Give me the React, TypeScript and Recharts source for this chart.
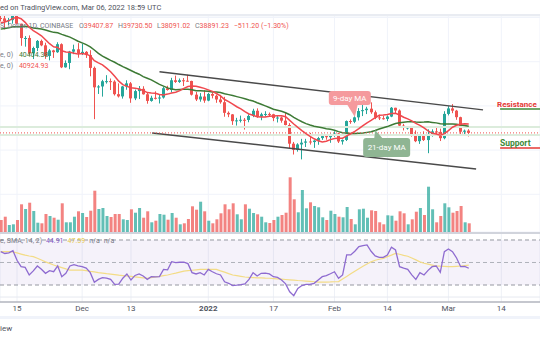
import React from "react";
import {
  ComposedChart,
  Bar,
  Line,
  XAxis,
  YAxis,
  CartesianGrid,
  ReferenceLine,
  ReferenceArea,
  ReferenceDot,
  Cell,
} from "recharts";

// day 0 = 15 Nov 2021, first candle is 11 Nov 2021
const FIRST_DAY = -4;
const X_DOMAIN: [number, number] = [-4.18, 128.5];

const tickDays = [0, 16, 28, 47, 63, 78, 91, 106, 119];
const tickLabels = ["15", "Dec", "13", "2022", "17", "Feb", "14", "Mar", "14"];
const priceTicks = [20000, 25000, 30000, 35000, 40000, 45000, 50000, 55000, 60000, 65000];

const opens = [
  64880, 64800, 64150, 64400, 65500, 63600, 60350, 60370, 56900, 58100, 59700, 58700, 56300, 57550, 57150, 58960,
  53730, 54720, 57270, 57800, 56950, 57230, 56500, 53600, 49200, 49400, 50580, 50600, 50500, 47650, 47150, 49400,
  50100, 46700, 48350, 48870, 47630, 46130, 46830, 46680, 46900, 49000, 48600, 50800, 50420, 50800, 50700, 50640,
  47540, 46460, 47120, 46200, 47700, 47300, 46450, 45830, 43430, 43080, 41550, 41730, 41860, 41820, 42730, 43900,
  42590, 43100, 43180, 43110, 42250, 42370, 41660, 40680, 36450, 35070, 36280, 36680, 36950, 36820, 37150, 37720,
  38170, 37920, 38480, 38740, 36950, 37300, 41570, 41410, 42410, 43840, 44040, 44370, 43560, 42400, 42210, 42050,
  42580, 44580, 43960, 40540, 40000, 40120, 38400, 37020, 38280, 37270, 38350, 39240, 39120, 37700, 43190, 44430,
  43920, 42450, 39150, 39407.87,
];
const highs = [
  65600, 65450, 64900, 65500, 66300, 63600, 60800, 60950, 58400, 59900, 60000, 59300, 57850, 57700, 59400, 59150,
  55300, 57450, 58850, 59200, 59050, 57400, 57600, 53900, 49700, 50900, 51950, 51200, 50800, 50100, 49500, 50800,
  50400, 48700, 49500, 49450, 48000, 47300, 48300, 47500, 49300, 49550, 51350, 51850, 51200, 51300, 52050, 50700,
  48150, 47900, 48550, 47950, 47950, 47550, 47500, 47050, 43750, 43150, 42300, 42800, 42250, 43100, 44350, 44450,
  43450, 43800, 43500, 43200, 42700, 42600, 43500, 41100, 36850, 36550, 37550, 37550, 38900, 37250, 38000, 38700,
  38350, 38750, 39250, 38850, 37400, 41700, 41950, 42650, 44500, 45500, 44800, 45800, 43950, 43000, 42750, 42850,
  44750, 44580, 44200, 40950, 40450, 40150, 39450, 38400, 39250, 39700, 39700, 40300, 39850, 43800, 44950, 45400,
  44100, 42550, 39650, 39730.5,
];
const lows = [
  64100, 62300, 63300, 63600, 63400, 58600, 58400, 56500, 55600, 57400, 58500, 55650, 55300, 55850, 57000, 53550,
  53650, 53300, 56700, 55900, 56500, 55850, 51700, 42000, 47700, 47100, 50050, 48600, 47350, 46900, 46650, 48650,
  45700, 46300, 46550, 47550, 45500, 45950, 46450, 45550, 46650, 48450, 48050, 50200, 50200, 49500, 50500, 47350,
  46100, 45950, 45700, 46050, 46700, 45700, 45500, 42550, 42450, 40700, 40550, 41250, 39650, 41300, 42450, 42300,
  41750, 42600, 42600, 41550, 41250, 41200, 40600, 35450, 34000, 34650, 32900, 35700, 36250, 35500, 36200, 37300,
  37350, 36650, 38000, 36600, 36250, 37050, 40950, 41100, 41700, 42700, 43150, 43200, 42000, 41800, 41900, 41550,
  42450, 43350, 40100, 39450, 39650, 38050, 36800, 36400, 37050, 34300, 38050, 38600, 37050, 37450, 42850, 43350,
  41850, 38650, 38600, 38091.02,
];
const closes = [
  64800, 64150, 64400, 65500, 63600, 60350, 60370, 56900, 58100, 59700, 58700, 56300, 57550, 57150, 58960, 53730,
  54720, 57270, 57800, 56950, 57230, 56500, 53600, 49200, 49400, 50580, 50600, 50500, 47650, 47150, 49400, 50100,
  46700, 48350, 48870, 47630, 46130, 46830, 46680, 46900, 49000, 48600, 50800, 50420, 50800, 50700, 50640, 47540,
  46460, 47120, 46200, 47700, 47300, 46450, 45830, 43430, 43080, 41550, 41730, 41860, 41820, 42730, 43900, 42590,
  43100, 43180, 43110, 42250, 42370, 41660, 40680, 36450, 35070, 36280, 36680, 36950, 36820, 37150, 37720, 38170,
  37920, 38480, 38740, 36950, 37300, 41570, 41410, 42410, 43840, 44040, 44370, 43560, 42400, 42210, 42050, 42580,
  44580, 43960, 40540, 40000, 40120, 38400, 37020, 38280, 37270, 38350, 39240, 39120, 37700, 43190, 44430, 43920,
  42450, 39150, 39400, 38891.23,
];
// volume, thousand BTC
const volumes = [
  12, 15.3, 7, 7.7, 12, 27.7, 23, 29.3, 21, 9.3, 8.7, 18, 16, 14.3, 12.3, 28.7, 9.7, 9.7, 15.3, 20.7,
  19, 15, 21.3, 41.3, 23, 24, 16, 15, 18, 18, 12.7, 12, 22.7, 19.3, 24, 14.3, 20.7, 9.7, 11.3, 18,
  17.3, 12.3, 19, 14.3, 7.7, 8.7, 13, 25.7, 22.3, 30.3, 20.7, 11.3, 8.7, 12.7, 18.7, 27.7, 22.7, 28.7, 17.7, 12.7,
  27.7, 23.3, 19, 17.7, 15.3, 9.7, 9, 12, 15.3, 17, 19.3, 54.7, 32.7, 19.7, 42, 23.7, 29.7, 26, 24.7, 14.7,
  12, 21.3, 18, 15.3, 14.7, 25, 13, 7.7, 22.7, 23.3, 14.3, 21.7, 21, 9.7, 7.7, 16.7, 16.3, 11.3, 20.7, 18.7,
  7.7, 12.7, 20.3, 24, 17, 45.3, 22.7, 9.7, 16, 28.7, 24.7, 19.3, 21, 26, 9.7, 8.7,
];
const ma9 = [
  63820, 63970, 64300, 64800, 65030, 64710, 63910, 62790, 62030, 61470, 60860, 59960, 59080, 58370, 58210, 57470,
  57220, 57130, 56920, 56730, 56830, 56710, 56310, 55220, 54740, 54290, 53540, 52730, 51700, 50590, 49800, 49410,
  49130, 49020, 48830, 48500, 48010, 47910, 47860, 47580, 47460, 47670, 47930, 48100, 48460, 48970, 49400, 49490,
  49440, 49230, 48970, 48620, 48280, 47800, 47260, 46440, 45960, 45410, 44810, 44330, 43680, 43170, 42880, 42520,
  42490, 42500, 42670, 42730, 42790, 42780, 42560, 41730, 40900, 40140, 39420, 38740, 38130, 37560, 37110, 36830,
  36990, 37370, 37630, 37670, 37700, 38230, 38700, 39220, 39840, 40520, 41180, 41720, 42320, 42870, 42920, 43060,
  43300, 43320, 42930, 42440, 42060, 41610, 41030, 40610, 40020, 39330, 38800, 38640, 38390, 38730, 39400, 40170,
  40630, 40840, 40960, 40924.93,
];
const ma21 = [
  62370, 62530, 62680, 62900, 62920, 62920, 63010, 62840, 62640, 62530, 62410, 62190, 61910, 61640, 61530, 61180,
  60860, 60570, 60100, 59630, 59260, 58870, 58360, 57640, 56870, 56250, 55790, 55310, 54880, 54360, 53870, 53460,
  53000, 52560, 52170, 51620, 51260, 50890, 50380, 49860, 49480, 49070, 48800, 48650, 48720, 48790, 48790, 48640,
  48450, 48420, 48380, 48300, 48160, 48150, 48030, 47770, 47550, 47340, 47100, 46870, 46620, 46320, 46100, 45710,
  45360, 45000, 44640, 44240, 44000, 43770, 43460, 43000, 42400, 41880, 41410, 40990, 40680, 40400, 40210, 40040,
  39850, 39700, 39500, 39180, 38920, 38850, 38770, 38730, 38800, 38880, 39010, 39150, 39430, 39770, 40040, 40320,
  40690, 41030, 41190, 41300, 41390, 41410, 41340, 41320, 41330, 41390, 41270, 41160, 40940, 40910, 40930, 40900,
  40850, 40700, 40570, 40404.38,
];
const rsi = [
  59.6, 58, 58.5, 60.5, 52, 46.3, 45.7, 38.9, 42.5, 46.9, 44, 40.4, 42.7, 41.8, 46.9, 37.4, 40.4, 46.9, 48.1, 47,
  46.3, 45, 41, 32.4, 35, 36.5, 36.2, 35, 30.5, 30.8, 36, 39.8, 34.4, 38.5, 39.8, 38, 35, 37.4, 37.2, 37.4,
  43.9, 43.5, 50.7, 49.9, 50.2, 50.3, 49, 41, 39.8, 41, 38.9, 43.9, 41.8, 40, 38.9, 32.9, 31.5, 29.4, 29.8, 30.3,
  30.9, 35, 41, 38, 40.4, 40.6, 39.8, 37.4, 36.8, 34.4, 31, 24, 20.5, 27, 29.5, 30.5, 30.5, 31.5, 34.5, 37.4,
  38.3, 40, 41.8, 36, 38.9, 56.7, 56.7, 60, 64.1, 65, 65.6, 60, 55.8, 54.6, 54.6, 56.7, 63.5, 61.1, 46.3, 45,
  43.9, 39, 35, 41, 38.9, 43, 46.3, 46.9, 41.3, 59.6, 62, 59.6, 54, 46.3, 46.5, 44.91,
];
const rsiMa = [
  59.6, 59.6, 59.6, 59.5, 58.5, 57.5, 56.5, 55.8, 55.2, 53.8, 52.2, 50.6, 49.2, 47.8, 46.6, 45.5, 44.3, 43.3, 43.3, 43.3,
  43.3, 42.7, 42.1, 41.6, 41, 40.6, 40.1, 39.7, 39.3, 38.8, 38.4, 38, 37.6, 37.2, 36.8, 36.4, 36, 36.6, 37.2, 37.7,
  38.3, 38.9, 39.8, 40.6, 41.5, 42.4, 42.8, 43.1, 43.5, 43.9, 43.9, 43.9, 43.9, 43.9, 42.6, 41.4, 40.1, 38.9, 38.3, 37.7,
  37.1, 36.7, 36.6, 36.4, 36.3, 36.1, 36, 35.7, 35.4, 35.2, 34.9, 34.6, 34.3, 34, 33.8, 33.5, 33.2, 32.9, 32.6, 32.5,
  32.6, 32.7, 32.9, 33, 35.3, 37.6, 39.9, 42.2, 44.5, 46.6, 48.6, 50.6, 52, 52.9, 53.7, 55.2, 56.6, 58.1, 57.3, 56.4,
  55.6, 54, 52.3, 50.6, 49.3, 48.5, 47.7, 46.9, 46.7, 46.6, 46.4, 46.3, 46.6, 46.9, 47.2, 47.59,
];

// drawn channel + horizontal levels, in (day, price)
const channelUpper = [
  { x: 35, y: 52700 },
  { x: 114.5, y: 44100 },
];
const channelLower = [
  { x: 33.2, y: 38870 },
  { x: 112.8, y: 30730 },
];
const zoneLevels = [40250, 38400];
const resistanceSeg = [
  { x: 118.7, y: 44300 },
  { x: 128.5, y: 44300 },
];
const supportSeg = [
  { x: 118.7, y: 35500 },
  { x: 128.5, y: 35500 },
];
const LAST_PRICE = 38891.23;

const UP = "#26a69a";
const DOWN = "#ef5350";
const FONT = "Roboto, 'Noto Sans', sans-serif";

const rows = closes.map((c, i) => ({
  day: FIRST_DAY + i,
  open: opens[i],
  high: highs[i],
  low: lows[i],
  close: c,
  range: [lows[i], highs[i]],
  vol: volumes[i],
  ma9: ma9[i],
  ma21: ma21[i],
  rsi: rsi[i],
  rsiMa: rsiMa[i],
}));

const Candle = (props: any) => {
  const { x, y, width, height, payload } = props;
  const top = Math.min(y, y + height);
  const h = Math.abs(height);
  const { open, close, high, low } = payload;
  const color = close >= open ? UP : DOWN;
  const k = h / (high - low || 1);
  const yO = top + (high - open) * k;
  const yC = top + (high - close) * k;
  const cx = Math.round(x + width / 2) - 0.5;
  return (
    <g>
      <line x1={cx} x2={cx} y1={top} y2={top + h} stroke={color} strokeWidth={1} />
      <rect
        x={cx - 1.5}
        y={Math.min(yO, yC)}
        width={3}
        height={Math.max(1, Math.abs(yC - yO))}
        fill={color}
      />
    </g>
  );
};

const MaTag = (props: any) => {
  const { cx, cy, kind } = props;
  if (kind === "9") {
    return (
      <g>
        <polygon points={`${cx - 8},${cy - 13} ${cx + 3},${cy - 13} ${cx},${cy}`} fill="#f59a9d" />
        <rect x={cx - 26} y={cy - 26} width={42} height={14} rx={3} fill="#f59a9d" />
        <text x={cx - 5} y={cy - 16} textAnchor="middle" fontSize={8} fill="#fff" fontFamily={FONT}>
          9-day MA
        </text>
      </g>
    );
  }
  return (
    <g>
      <polygon points={`${cx - 1},${cy + 9} ${cx + 8},${cy + 9} ${cx},${cy}`} fill="#8fb593" />
      <rect x={cx - 12} y={cy + 8} width={47} height={19} rx={3} fill="#8fb593" />
      <text x={cx + 11.5} y={cy + 20.5} textAnchor="middle" fontSize={8} fill="#fff" fontFamily={FONT}>
        21-day MA
      </text>
    </g>
  );
};

const DateTick = (props: any) => {
  const { x, y, payload } = props;
  const label = tickLabels[tickDays.indexOf(payload.value)];
  return (
    <text
      x={x}
      y={y + 9}
      textAnchor="middle"
      fontSize={8}
      fill="#50535e"
      fontWeight={label === "2022" ? 700 : 400}
      fontFamily={FONT}
    >
      {label}
    </text>
  );
};

const abs = (left: number, top: number): React.CSSProperties => ({ position: "absolute", left, top });

export default function App() {
  const txt: React.CSSProperties = { fontSize: 7, fontFamily: FONT, whiteSpace: "nowrap", lineHeight: "9px" };
  return (
    <div
      style={{
        position: "fixed",
        left: 0,
        top: 0,
        width: 540,
        height: 340,
        background: "#fff",
        overflow: "hidden",
        fontFamily: FONT,
      }}
    >
      <div style={{ ...abs(0, 3), ...txt, fontSize: 7.5, color: "#50535e" }}>
        ed on TradingView.com, Mar 06, 2022 18:59 UTC
      </div>
      <div style={{ ...abs(0, 14), width: 540, height: 2, background: "#e9ecf2" }} />

      {/* price pane with volume */}
      <div style={abs(0, 16)}>
        <ComposedChart width={540} height={216} data={rows} margin={{ top: 0, right: 0, bottom: 0, left: 0 }}>
          <XAxis xAxisId="x" dataKey="day" type="number" domain={X_DOMAIN} ticks={tickDays} hide allowDataOverflow />
          <XAxis xAxisId="vx" dataKey="day" type="number" domain={X_DOMAIN} hide allowDataOverflow />
          <YAxis yAxisId="p" domain={[16470, 65340]} ticks={priceTicks} hide allowDataOverflow />
          <YAxis yAxisId="v" domain={[0, 216]} hide allowDataOverflow />
          <CartesianGrid xAxisId="x" yAxisId="p" stroke="#f0f3fa" strokeWidth={1} />
          {zoneLevels.map((lv) => (
            <ReferenceLine key={lv} xAxisId="x" yAxisId="p" y={lv} stroke="#dcecdc" strokeWidth={2} />
          ))}
          <Bar xAxisId="vx" yAxisId="v" dataKey="vol" barSize={3} isAnimationActive={false}>
            {rows.map((r, i) => (
              <Cell key={i} fill={r.close >= r.open ? UP : DOWN} fillOpacity={0.72} />
            ))}
          </Bar>
          <ReferenceLine xAxisId="x" yAxisId="p" segment={channelUpper} stroke="#4a4a4a" strokeWidth={1.5} ifOverflow="visible" />
          <ReferenceLine xAxisId="x" yAxisId="p" segment={channelLower} stroke="#4a4a4a" strokeWidth={1.5} ifOverflow="visible" />
          <ReferenceLine xAxisId="x" yAxisId="p" segment={resistanceSeg} stroke="#3f8a3a" strokeWidth={1.5} ifOverflow="visible" />
          <ReferenceLine xAxisId="x" yAxisId="p" segment={supportSeg} stroke="#e53935" strokeWidth={1.5} ifOverflow="visible" />
          <Line xAxisId="x" yAxisId="p" dataKey="ma21" stroke="#3d7a35" strokeWidth={1.5} dot={false} isAnimationActive={false} />
          <Line xAxisId="x" yAxisId="p" dataKey="ma9" stroke="#f0484e" strokeWidth={1.5} dot={false} isAnimationActive={false} />
          <Bar xAxisId="x" yAxisId="p" dataKey="range" barSize={3} shape={Candle} isAnimationActive={false} />
          <ReferenceLine xAxisId="x" yAxisId="p" y={LAST_PRICE} stroke={DOWN} strokeDasharray="1 2" strokeWidth={1} />
          <ReferenceDot xAxisId="x" yAxisId="p" x={83} y={42490} r={0} ifOverflow="visible" shape={(p: any) => <MaTag {...p} kind="9" />} />
          <ReferenceDot xAxisId="x" yAxisId="p" x={88} y={39550} r={0} ifOverflow="visible" shape={(p: any) => <MaTag {...p} kind="21" />} />
        </ComposedChart>
      </div>

      {/* legend */}
      <div style={{ ...abs(0, 22), ...txt, color: "#787b86" }}>
        S. Dollar, 1D, COINBASE{" "}
        <span style={{ marginLeft: 4 }}>O</span>
        <span style={{ color: DOWN }}>39407.87</span>{" "}
        <span style={{ marginLeft: 3 }}>H</span>
        <span style={{ color: DOWN }}>39730.50</span>{" "}
        <span style={{ marginLeft: 3 }}>L</span>
        <span style={{ color: DOWN }}>38091.02</span>{" "}
        <span style={{ marginLeft: 3 }}>C</span>
        <span style={{ color: DOWN }}>38891.23</span>{" "}
        <span style={{ color: DOWN, marginLeft: 3 }}>−511.20 (−1.30%)</span>
      </div>
      <div style={{ ...abs(0, 51), ...txt, color: "#787b86" }}>
        e, 0) <span style={{ color: "#3d7a35", marginLeft: 4 }}>40404.38</span>
      </div>
      <div style={{ ...abs(0, 62), ...txt, color: "#787b86" }}>
        e, 0) <span style={{ color: DOWN, marginLeft: 4 }}>40924.93</span>
      </div>

      <div style={{ ...abs(497, 100), fontSize: 8, fontWeight: 700, color: "#e53935", fontFamily: FONT, whiteSpace: "nowrap" }}>
        Resistance
      </div>
      <div style={{ ...abs(500, 138), fontSize: 8.5, fontWeight: 700, color: "#3f8a3a", fontFamily: FONT, whiteSpace: "nowrap" }}>
        Support
      </div>

      <div style={{ ...abs(0, 232), width: 540, height: 2, background: "#d1d4dc" }} />

      {/* RSI pane */}
      <div style={abs(0, 234)}>
        <ComposedChart width={540} height={88} data={rows} margin={{ top: 0, right: 0, bottom: 0, left: 0 }}>
          <XAxis
            dataKey="day"
            type="number"
            domain={X_DOMAIN}
            ticks={tickDays}
            allowDataOverflow
            height={20}
            tickSize={0}
            tickMargin={0}
            tick={<DateTick />}
            axisLine={{ stroke: "#b2b5be", strokeWidth: 1.5 }}
            interval={0}
          />
          <YAxis domain={[14.89, 75.33]} hide allowDataOverflow />
          <CartesianGrid horizontal={false} stroke="#eef1f7" />
          <ReferenceArea y1={30} y2={70} fill="#7e57c2" fillOpacity={0.08} stroke="none" />
          <ReferenceLine y={70} stroke="#9598a1" strokeDasharray="4 3" />
          <ReferenceLine y={50} stroke="#b0b3bb" strokeDasharray="4 3" />
          <ReferenceLine y={30} stroke="#9598a1" strokeDasharray="4 3" />
          <ReferenceLine y={19.3} stroke="#e6e9f0" />
          <Line dataKey="rsiMa" stroke="#f3dc86" strokeWidth={1.2} dot={false} isAnimationActive={false} />
          <Line dataKey="rsi" stroke="#8e6bd0" strokeWidth={1.3} dot={false} isAnimationActive={false} />
        </ComposedChart>
      </div>
      <div style={{ ...abs(0, 237), ...txt, color: "#787b86" }}>
        e, SMA, 14, 2) <span style={{ color: "#7e57c2", marginLeft: 2 }}>44.91</span>
        <span style={{ color: "#e8c84a", marginLeft: 4 }}>47.59</span>
        <span style={{ marginLeft: 4 }}>n/a</span>
        <span style={{ marginLeft: 4 }}>n/a</span>
      </div>

      <div style={{ ...abs(0, 316), width: 540, height: 3, background: "#f0f3fa" }} />
      <div style={{ ...abs(0, 324), fontSize: 8, color: "#50535e", fontFamily: FONT }}>iew</div>
    </div>
  );
}
